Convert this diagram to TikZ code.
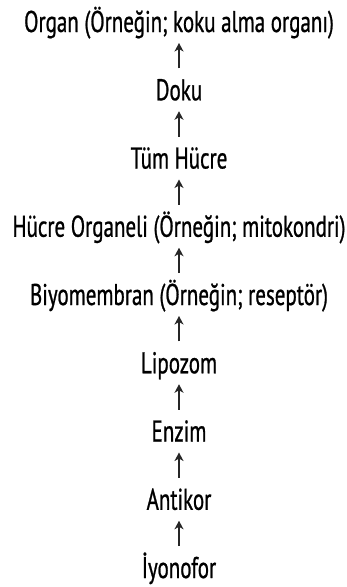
\documentclass[tikz,border=0pt]{standalone}
\usepackage{fontspec}
\setmainfont[FakeStretch=0.7,FakeBold=0.8]{PT Sans}
\usetikzlibrary{arrows.meta}
\begin{document}
\begin{tikzpicture}[x=1pt,y=1pt,
  level/.style={anchor=base,inner sep=0pt,font=\fontsize{30}{33}\selectfont},
  up/.style={-{Stealth[length=8.5pt,width=9pt,inset=2.5pt]},line width=1.5pt,
    draw=black!85}]
\useasboundingbox (0,0) rectangle (346,-587);
\node[level] (n1) at (179,-32)     {Organ (Örneğin; koku alma organı)};
\node[level] (n2) at (179,-100.25) {Doku};
\node[level] (n3) at (179,-168.5)  {Tüm Hücre};
\node[level] (n4) at (179,-236.75) {Hücre Organeli (Örneğin; mitokondri)};
\node[level] (n5) at (179,-305)    {Biyomembran (Örneğin; reseptör)};
\node[level] (n6) at (179,-373.25) {Lipozom};
\node[level] (n7) at (179,-441.5)  {Enzim};
\node[level] (n8) at (179,-509.75) {Antikor};
\node[level] (n9) at (179,-578)    {İyonofor};
% each arrow runs from 32pt above the lower baseline to 11pt below the upper one
\foreach \lo/\hi in {n2/n1,n3/n2,n4/n3,n5/n4,n6/n5,n7/n6,n8/n7,n9/n8}
  \draw[up] ([yshift=32pt]\lo.base) -- ([yshift=-11pt]\hi.base);
\end{tikzpicture}
\end{document}
